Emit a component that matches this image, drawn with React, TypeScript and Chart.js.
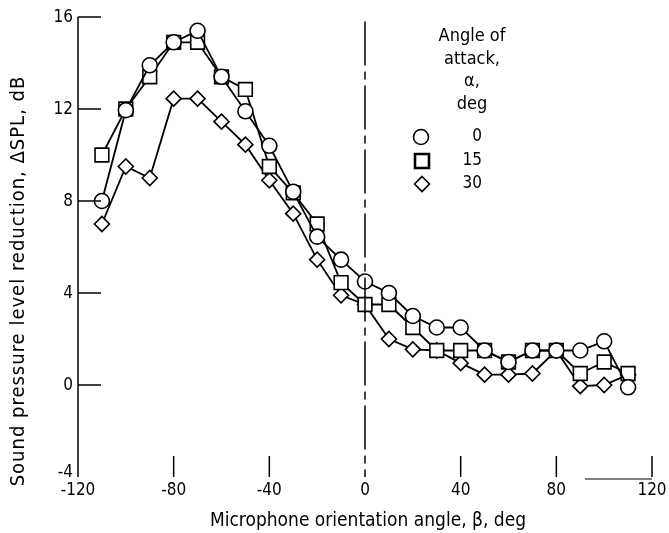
import React, { useEffect, useRef } from "react";
import { Chart, registerables } from "chart.js";
Chart.register(...registerables);

const angles = [-110, -100, -90, -80, -70, -60, -50, -40, -30, -20, -10, 0, 10, 20, 30, 40, 50, 60, 70, 80, 90, 100, 110];
const alpha0 = [8, 11.95, 13.9, 14.9, 15.4, 13.4, 11.9, 10.4, 8.4, 6.45, 5.45, 4.5, 4.0, 3.0, 2.5, 2.5, 1.5, 1.0, 1.5, 1.5, 1.5, 1.9, -0.1];
const alpha15 = [10, 12, 13.4, 14.9, 14.9, 13.4, 12.85, 9.5, 8.35, 7.0, 4.45, 3.5, 3.5, 2.5, 1.5, 1.5, 1.5, 1.0, 1.5, 1.5, 0.5, 1.0, 0.5];
const alpha30 = [7, 9.5, 9.0, 12.45, 12.45, 11.45, 10.45, 8.9, 7.45, 5.45, 3.9, 3.5, 2.0, 1.55, 1.5, 0.95, 0.45, 0.45, 0.5, 1.5, -0.05, 0, 0.45];
const xTicks = [-120, -80, -40, 0, 40, 80, 120];
const yTicks = [16, 12, 8, 4, 0, -4];
const legendTitle = ["Angle of", "attack,", "α,", "deg"];
const legendLabels = ["0", "15", "30"];
const xTitle = "Microphone orientation angle, β, deg";
const yTitle = "Sound pressure level reduction, ΔSPL, dB";

const FONT = "'DejaVu Sans Condensed', 'DejaVu Sans', sans-serif";

const toPts = (vals: number[]) => angles.map((a, i) => ({ x: a, y: vals[i] }));

const axesPlugin = {
  id: "nasaAxes",
  afterDatasetsDraw(chart: any) {
    const { ctx, scales } = chart;
    const x = scales.x;
    const y = scales.y;
    const left = x.getPixelForValue(-120);
    const bottom = y.getPixelForValue(-4);
    ctx.save();
    ctx.strokeStyle = "#000";
    ctx.fillStyle = "#000";
    ctx.lineWidth = 1.5;

    // dashed zero line
    const x0 = x.getPixelForValue(0);
    ctx.setLineDash([44, 6, 8, 6]);
    ctx.beginPath();
    ctx.moveTo(x0, y.getPixelForValue(15.8));
    ctx.lineTo(x0, bottom);
    ctx.stroke();
    ctx.setLineDash([]);

    // left axis
    ctx.beginPath();
    ctx.moveTo(left, y.getPixelForValue(16));
    ctx.lineTo(left, bottom);
    ctx.stroke();
    yTicks.forEach((t) => {
      if (t === -4) return;
      const py = y.getPixelForValue(t);
      ctx.beginPath();
      ctx.moveTo(left, py);
      ctx.lineTo(left + 23, py);
      ctx.stroke();
    });
    xTicks.forEach((t) => {
      if (t === -120 || t === 0) return;
      const px = x.getPixelForValue(t);
      ctx.beginPath();
      ctx.moveTo(px, bottom);
      ctx.lineTo(px, bottom - 21);
      ctx.stroke();
    });
    // partial bottom line near right
    ctx.lineWidth = 1;
    ctx.beginPath();
    ctx.moveTo(x.getPixelForValue(92), bottom + 2);
    ctx.lineTo(x.getPixelForValue(120), bottom + 2);
    ctx.stroke();

    // tick labels
    ctx.font = `17px ${FONT}`;
    ctx.textAlign = "right";
    ctx.textBaseline = "middle";
    yTicks.forEach((t) => {
      const py = y.getPixelForValue(t) + (t === -4 ? -4 : 1);
      ctx.fillText(String(t), left - 5, py);
    });
    ctx.textAlign = "center";
    xTicks.forEach((t) => {
      ctx.fillText(String(t), x.getPixelForValue(t), bottom + 14);
    });

    // axis titles
    ctx.font = `19px ${FONT}`;
    ctx.fillText(xTitle, 368, 521);
    ctx.save();
    ctx.font = `20px ${FONT}`;
    try { (ctx as any).letterSpacing = "1px"; } catch (e) {}
    ctx.translate(19, 281);
    ctx.rotate(-Math.PI / 2);
    ctx.fillText(yTitle, 0, 0);
    ctx.restore();

    // legend
    ctx.font = `18px ${FONT}`;
    ctx.textBaseline = "alphabetic";
    legendTitle.forEach((s, i) => {
      ctx.fillText(s, 472, 41 + i * 22.5);
    });
    ctx.font = `17px ${FONT}`;
    ctx.textAlign = "right";
    ctx.textBaseline = "middle";
    const ly = [137, 161, 184];
    legendLabels.forEach((s, i) => ctx.fillText(s, 482, ly[i]));
    ctx.fillStyle = "#fff";
    ctx.lineWidth = 1.6;
    ctx.beginPath();
    ctx.arc(421, ly[0], 7.5, 0, Math.PI * 2);
    ctx.fill();
    ctx.stroke();
    ctx.lineWidth = 2.6;
    ctx.beginPath();
    ctx.rect(415, ly[1] - 7, 14, 14);
    ctx.fill();
    ctx.stroke();
    ctx.lineWidth = 1.6;
    ctx.beginPath();
    ctx.moveTo(422, ly[2] - 7.5);
    ctx.lineTo(429.5, ly[2]);
    ctx.lineTo(422, ly[2] + 7.5);
    ctx.lineTo(414.5, ly[2]);
    ctx.closePath();
    ctx.fill();
    ctx.stroke();
    ctx.restore();
  },
};

export default function App() {
  const ref = useRef<HTMLCanvasElement | null>(null);
  useEffect(() => {
    if (!ref.current) return;
    const common = {
      borderColor: "#000",
      borderWidth: 1.8,
      pointBackgroundColor: "#fff",
      pointBorderColor: "#000",
      pointBorderWidth: 1.6,
      tension: 0,
      fill: false,
    };
    const chart = new Chart(ref.current, {
      type: "line",
      data: {
        datasets: [
          { ...common, label: "0", data: toPts(alpha0), pointStyle: "circle", pointRadius: 7.5 },
          { ...common, label: "15", data: toPts(alpha15), pointStyle: "rect", pointRadius: 9.7 },
          { ...common, label: "30", data: toPts(alpha30), pointStyle: "rectRot", pointRadius: 7.5 },
        ],
      },
      options: {
        responsive: false,
        animation: false,
        layout: { padding: { left: 78, right: 17, top: 17, bottom: 56 } },
        plugins: { legend: { display: false }, tooltip: { enabled: false } },
        scales: {
          x: { type: "linear", min: -120, max: 120, display: false },
          y: { type: "linear", min: -4, max: 16, display: false },
        },
      },
      plugins: [axesPlugin],
    });
    return () => chart.destroy();
  }, []);
  return (
    <div style={{ position: "absolute", left: 0, top: 0, width: 669, height: 533, background: "#fff" }}>
      <canvas ref={ref} width={669} height={533} style={{ width: 669, height: 533 }} />
    </div>
  );
}
